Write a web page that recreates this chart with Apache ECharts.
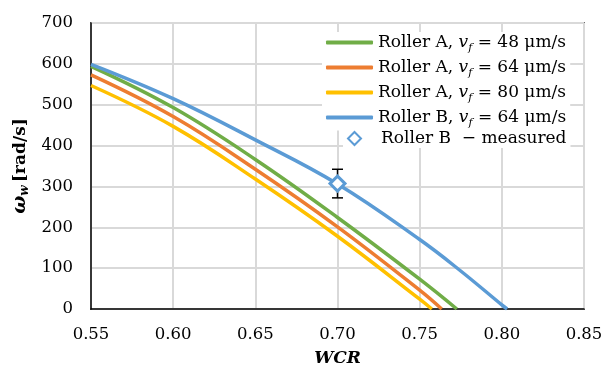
<!DOCTYPE html>
<html><head><meta charset="utf-8">
<script src="https://cdn.jsdelivr.net/npm/echarts@6/dist/echarts.min.js"></script>
<style>html,body{margin:0;padding:0;background:#fff}#c{width:606px;height:372px}</style>
</head><body><div id="c"></div>
<script>
// Data
const xTicks = [0.55, 0.60, 0.65, 0.70, 0.75, 0.80, 0.85];
const yTicks = [0, 100, 200, 300, 400, 500, 600, 700];
const seriesNames = ['A48', 'A64', 'A80', 'B64'];
const wcrA48 = [0.55, 0.60, 0.65, 0.70, 0.75, 0.7726];
const omegaA48 = [594, 493, 366, 224, 73, 0];
const wcrA64 = [0.55, 0.60, 0.65, 0.70, 0.75, 0.7634];
const omegaA64 = [573, 471, 342, 201, 46, 0];
const wcrA80 = [0.55, 0.60, 0.65, 0.70, 0.75, 0.7574];
const omegaA80 = [547, 447, 318, 178, 24, 0];
const wcrB64 = [0.55, 0.60, 0.65, 0.70, 0.75, 0.775, 0.80, 0.8032];
const omegaB64 = [599, 515, 414, 306, 170, 93, 10, 0];
const measuredWcr = [0.70];
const measuredOmega = [307];
const measuredErr = [35];
const vf = { A48: '48', A64: '64', A80: '80', B64: '64' };
const roller = { A48: 'A', A64: 'A', A80: 'A', B64: 'B' };
const colors = { A48: '#70AD47', A64: '#ED7D31', A80: '#FFC000', B64: '#5B9BD5' };

const FONT = 'DejaVu Serif';
const zip = (xs, ys) => xs.map((x, i) => [x, ys[i]]);
const lineData = { A48: zip(wcrA48, omegaA48), A64: zip(wcrA64, omegaA64), A80: zip(wcrA80, omegaA80), B64: zip(wcrB64, omegaB64) };

const chart = echarts.init(document.getElementById('c'), null, { renderer: 'canvas' });
const lineSeries = seriesNames.map(n => ({
  name: n, type: 'line', data: lineData[n], smooth: 0.4, showSymbol: false, symbol: 'none',
  lineStyle: { color: colors[n], width: 3.5 }, itemStyle: { color: colors[n] }, z: 3
}));
const option = {
  animation: false,
  backgroundColor: '#fff',
  grid: { left: 91, right: 22, top: 23, bottom: 61, show: true, borderColor: '#000', borderWidth: 1.5, backgroundColor: 'transparent' },
  xAxis: {
    type: 'value', min: xTicks[0], max: xTicks[xTicks.length - 1], interval: 0.05,
    name: 'WCR', nameLocation: 'middle', nameGap: 41,
    nameTextStyle: { fontFamily: FONT, fontWeight: 'bold', fontStyle: 'italic', fontSize: 17, color: '#000' },
    axisLine: { show: true, lineStyle: { color: '#000', width: 1.5 } },
    axisTick: { show: false },
    axisLabel: { margin: 17, fontFamily: FONT, fontSize: 16.5, color: '#000', formatter: v => v.toFixed(2) },
    splitLine: { show: true, lineStyle: { color: '#d9d9d9', width: 2 } }
  },
  yAxis: {
    type: 'value', min: yTicks[0], max: yTicks[yTicks.length - 1], interval: 100,
    name: '{w|ω}{s|w} {b|[rad/s]}', nameLocation: 'middle', nameGap: 57, nameRotate: 90,
    nameTextStyle: { color: '#000', rich: {
      w: { fontFamily: FONT, fontWeight: 'bold', fontStyle: 'italic', fontSize: 19, color: '#000' },
      s: { fontFamily: FONT, fontWeight: 'bold', fontStyle: 'italic', fontSize: 12, color: '#000', padding: [9, 0, 0, 0] },
      b: { fontFamily: FONT, fontWeight: 'bold', fontSize: 17, color: '#000' }
    } },
    axisLine: { show: true, lineStyle: { color: '#000', width: 1.5 } },
    axisTick: { show: false },
    axisLabel: { margin: 18, fontFamily: FONT, fontSize: 16.5, color: '#000' },
    splitLine: { show: true, lineStyle: { color: '#d9d9d9', width: 2 } }
  },
  legend: [{
    data: seriesNames, orient: 'vertical', left: 322, top: 32,
    icon: 'roundRect', itemWidth: 47, itemHeight: 4, itemGap: 5.5,
    backgroundColor: '#fff', padding: [2, 4, 2, 4],
    formatter: n => `{t|Roller ${roller[n]}, }{v|v}{s|f}{t| = ${vf[n]} μm/s}`,
    textStyle: { color: '#000', fontFamily: FONT, fontSize: 17, rich: {
      t: { fontFamily: FONT, fontSize: 17, color: '#000' },
      v: { fontFamily: FONT, fontStyle: 'italic', fontSize: 17, color: '#000' },
      s: { fontFamily: FONT, fontStyle: 'italic', fontSize: 11, color: '#000', padding: [11, 0, 0, 0] }
    } }
  }, {
    data: ['measured'], orient: 'vertical', left: 343, top: 129,
    itemWidth: 13, itemHeight: 13,
    backgroundColor: '#fff', padding: [1, 4, 1, 4],
    formatter: () => '{p|Roller B  − measured}',
    textStyle: { color: '#000', fontFamily: FONT, fontSize: 17, rich: {
      p: { fontFamily: FONT, fontSize: 17, color: '#000', padding: [0, 0, 0, 15] }
    } }
  }],
  series: [
    ...lineSeries,
    {
      name: 'errbar', type: 'custom', z: 4,
      data: measuredWcr.map((x, i) => [x, measuredOmega[i] - measuredErr[i], measuredOmega[i] + measuredErr[i]]),
      renderItem: (params, api) => {
        const lo = api.coord([api.value(0), api.value(1)]);
        const hi = api.coord([api.value(0), api.value(2)]);
        const hw = 5.5;
        const st = { stroke: '#000', lineWidth: 1.5 };
        return { type: 'group', children: [
          { type: 'line', shape: { x1: lo[0], y1: lo[1], x2: hi[0], y2: hi[1] }, style: st },
          { type: 'line', shape: { x1: lo[0] - hw, y1: lo[1], x2: lo[0] + hw, y2: lo[1] }, style: st },
          { type: 'line', shape: { x1: hi[0] - hw, y1: hi[1], x2: hi[0] + hw, y2: hi[1] }, style: st }
        ] };
      }
    },
    {
      name: 'measured', type: 'scatter', z: 5, symbol: 'diamond', symbolSize: 15,
      data: zip(measuredWcr, measuredOmega),
      itemStyle: { color: '#fff', borderColor: '#5B9BD5', borderWidth: 3, opacity: 1 }
    }
  ]
};
chart.setOption(option);
</script></body></html>
